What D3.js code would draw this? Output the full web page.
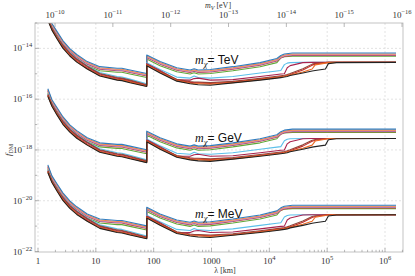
<!DOCTYPE html>
<html>
<head>
<meta charset="utf-8">
<script src="https://cdn.jsdelivr.net/npm/d3@7"></script>
<style>
  body { margin: 0; background: #fff; }
  text { font-family: "Liberation Serif", "DejaVu Serif", serif; fill: #333; }
</style>
</head>
<body>
<script>
// wavelength grid (km) shared by the upper curves of each bundle
var upperLambda = [1.48, 1.74, 2.14, 2.69, 3.55, 4.68, 7.1, 11.7, 23.4, 28.2, 38.9, 75.9, 75.9, 129, 251, 427, 501, 589, 955, 2340, 6920, 13500, 15800, 18200, 25100, 1.55e6];
// wavelength grid (km) for the lower curves (they step up later)
var lowerLambda = [1.48, 1.74, 2.14, 2.69, 3.55, 4.68, 7.1, 11.7, 23.4, 28.2, 38.9, 75.9, 75.9, 129, 251, 427, 501, 589, 955, 2340, 6920, 13500, 15800, 18200, 20400, 22900, 38000, 55000, 62000, 93300, 105000, 145000, 1.55e6];

// log10 f_DM for the m_chi = TeV bundle
var blueExp   = [-12.59,-13.02,-13.34,-13.69,-14.01,-14.24,-14.52,-14.72,-14.78,-14.78,-14.85,-14.99,-14.26,-14.52,-14.76,-14.85,-14.80,-14.85,-14.83,-14.72,-14.56,-14.40,-14.28,-14.22,-14.18,-14.18];
var orangeExp = [-12.63,-13.06,-13.38,-13.73,-14.05,-14.28,-14.56,-14.76,-14.82,-14.82,-14.89,-15.03,-14.30,-14.56,-14.80,-14.89,-14.84,-14.89,-14.87,-14.76,-14.60,-14.44,-14.32,-14.26,-14.22,-14.22];
var pinkExp   = [-12.65,-13.08,-13.40,-13.75,-14.07,-14.30,-14.58,-14.78,-14.84,-14.84,-14.91,-15.05,-14.32,-14.58,-14.82,-14.91,-14.86,-14.91,-14.89,-14.78,-14.62,-14.46,-14.34,-14.28,-14.24,-14.24];
var purpleExp = [-12.67,-13.10,-13.42,-13.77,-14.09,-14.32,-14.60,-14.80,-14.86,-14.86,-14.93,-15.07,-14.34,-14.60,-14.84,-14.93,-14.88,-14.93,-14.91,-14.80,-14.64,-14.48,-14.36,-14.30,-14.26,-14.26];
var redExp    = [-12.69,-13.12,-13.44,-13.79,-14.11,-14.34,-14.62,-14.82,-14.88,-14.88,-14.95,-15.09,-14.36,-14.62,-14.86,-14.95,-14.90,-14.95,-14.93,-14.82,-14.66,-14.50,-14.38,-14.32,-14.28,-14.28];
var greenExp  = [-12.75,-13.18,-13.50,-13.85,-14.17,-14.40,-14.68,-14.88,-14.94,-14.94,-15.01,-15.15,-14.42,-14.68,-14.92,-15.01,-14.96,-15.01,-14.99,-14.88,-14.72,-14.56,-14.37,-14.33,-14.31,-14.31];

var skyExp     = [-12.79,-13.18,-13.54,-13.85,-14.17,-14.40,-14.68,-14.95,-15.11,-15.13,-15.21,-15.39,-14.57,-14.83,-15.13,-15.17,-15.09,-15.15,-15.17,-15.11,-14.97,-14.89,-14.87,-14.64,-14.58,-14.56,-14.55,-14.55,-14.55,-14.55,-14.55,-14.55,-14.55];
var crimsonExp = [-12.83,-13.22,-13.57,-13.89,-14.20,-14.44,-14.72,-15.01,-15.17,-15.19,-15.27,-15.45,-14.60,-14.87,-15.24,-15.25,-15.19,-15.17,-15.25,-15.23,-15.11,-15.03,-15.01,-15.00,-14.76,-14.68,-14.56,-14.55,-14.55,-14.55,-14.55,-14.55,-14.55];
var brownExp   = [-12.81,-13.20,-13.56,-13.87,-14.19,-14.42,-14.70,-14.99,-15.15,-15.17,-15.25,-15.43,-14.62,-14.90,-15.22,-15.31,-15.33,-15.33,-15.35,-15.30,-15.18,-15.10,-15.08,-15.06,-15.03,-14.99,-14.80,-14.62,-14.59,-14.56,-14.55,-14.55,-14.55];
var darkRedExp = [-12.85,-13.24,-13.59,-13.94,-14.25,-14.49,-14.77,-15.05,-15.21,-15.23,-15.31,-15.47,-14.63,-14.92,-15.25,-15.34,-15.36,-15.36,-15.38,-15.33,-15.21,-15.13,-15.11,-15.09,-15.06,-15.03,-14.85,-14.66,-14.62,-14.56,-14.55,-14.55,-14.55];
var vermExp    = [-12.87,-13.26,-13.61,-13.97,-14.28,-14.52,-14.80,-15.07,-15.23,-15.25,-15.33,-15.49,-14.66,-14.95,-15.27,-15.37,-15.39,-15.39,-15.41,-15.35,-15.23,-15.15,-15.13,-15.11,-15.08,-15.05,-14.93,-14.81,-14.65,-14.58,-14.56,-14.55,-14.55];
var blackExp   = [-12.89,-13.28,-13.63,-13.99,-14.30,-14.54,-14.81,-15.09,-15.25,-15.27,-15.35,-15.50,-14.68,-14.97,-15.29,-15.39,-15.41,-15.43,-15.45,-15.36,-15.25,-15.17,-15.15,-15.13,-15.11,-15.07,-14.97,-14.89,-14.87,-14.81,-14.60,-14.56,-14.55];

var series = [
    { lam: upperLambda, exp: greenExp,   color: "#5fa83a" },
    { lam: upperLambda, exp: redExp,     color: "#c9473a" },
    { lam: upperLambda, exp: purpleExp,  color: "#9467bd" },
    { lam: upperLambda, exp: pinkExp,    color: "#e899b8" },
    { lam: upperLambda, exp: orangeExp,  color: "#f08a4b" },
    { lam: upperLambda, exp: blueExp,    color: "#2f7dc0" },
    { lam: lowerLambda, exp: skyExp,     color: "#5cc0ea" },
    { lam: lowerLambda, exp: crimsonExp, color: "#a8234e" },
    { lam: lowerLambda, exp: brownExp,   color: "#8c4a3c" },
    { lam: lowerLambda, exp: darkRedExp, color: "#c0302a" },
    { lam: lowerLambda, exp: vermExp,    color: "#ec6a22" },
    { lam: lowerLambda, exp: blackExp,   color: "#222222" }
];

// bundles: decades of shift relative to the TeV curves
var masses = ["TeV", "GeV", "MeV"];
var massShift = [0, -3, -6];
var labelExp = [-14.62, -17.7, -20.68];
var labelLambda = 520;

var xTicks = [1, 10, 100, 1000, 1e4, 1e5, 1e6];
var xTickText = ["1", "10", "100", "1000", "10^4", "10^5", "10^6"];
var yGrid = [-14, -16, -18, -20];
var yTickExp = [-14, -16, -18, -20, -22];
var mTickExp = [-10, -11, -12, -13, -14, -15, -16];
var hbarC = 1.97e-10; // eV km

var W = 415, H = 276;
var pL = 35, pR = 403, pT = 23, pB = 252;

var svg = d3.select("body").append("svg").attr("width", W).attr("height", H);

var x = d3.scaleLog().domain([1, 1e6]).range([38, 385]);
var y = d3.scaleLog().domain([1e-22, 1e-13]).range([251.5, 23]);

// grid
svg.append("g").selectAll("line").data(xTicks).enter().append("line")
    .attr("x1", function (d) { return x(d); }).attr("x2", function (d) { return x(d); })
    .attr("y1", pT).attr("y2", pB)
    .attr("stroke", "#dcdcdc").attr("stroke-width", 0.8).attr("stroke-dasharray", "2,2");
svg.append("g").selectAll("line").data(yGrid).enter().append("line")
    .attr("x1", pL).attr("x2", pR)
    .attr("y1", function (d) { return y(Math.pow(10, d)); }).attr("y2", function (d) { return y(Math.pow(10, d)); })
    .attr("stroke", "#dcdcdc").attr("stroke-width", 0.8).attr("stroke-dasharray", "2,2");

svg.append("clipPath").attr("id", "clip").append("rect")
    .attr("x", pL).attr("y", pT).attr("width", pR - pL).attr("height", pB - pT);

var line = d3.line()
    .x(function (d) { return x(d[0]); })
    .y(function (d) { return y(Math.pow(10, d[1])); });

var plot = svg.append("g").attr("clip-path", "url(#clip)");
massShift.forEach(function (shift) {
    series.forEach(function (s) {
        var pts = s.lam.map(function (l, i) { return [l, s.exp[i] + shift]; });
        plot.append("path").attr("d", line(pts)).attr("fill", "none")
            .attr("stroke", s.color).attr("stroke-width", 1.1).attr("stroke-linejoin", "round");
    });
});

// frame
svg.append("rect").attr("x", pL).attr("y", pT).attr("width", pR - pL).attr("height", pB - pT)
    .attr("fill", "none").attr("stroke", "#b4b4b4").attr("stroke-width", 0.8);

// bottom ticks
var minorX = [];
for (var e = 0; e < 7; e++) {
    for (var k = 1; k < 10; k++) {
        var v = k * Math.pow(10, e);
        if (x(v) > pL && x(v) < pR) minorX.push(v);
    }
}
svg.append("g").selectAll("line").data(minorX).enter().append("line")
    .attr("x1", function (d) { return x(d); }).attr("x2", function (d) { return x(d); })
    .attr("y1", pB).attr("y2", function (d) { return xTicks.indexOf(d) >= 0 ? pB - 4 : pB - 2.2; })
    .attr("stroke", "#999").attr("stroke-width", 0.7);

var xl = svg.append("g").selectAll("text").data(xTicks).enter().append("text")
    .attr("x", function (d) { return x(d); }).attr("y", 264)
    .attr("text-anchor", "middle").style("font-size", "9px");
xl.each(function (d, i) {
    var t = d3.select(this), s = xTickText[i];
    if (s.indexOf("^") > 0) {
        var p = s.split("^");
        t.append("tspan").text(p[0]);
        t.append("tspan").attr("dy", -4).style("font-size", "6.5px").text(p[1]);
    } else {
        t.text(s);
    }
});

// left ticks
var yAll = d3.range(-22, -12);
svg.append("g").selectAll("line").data(yAll).enter().append("line")
    .attr("x1", pL).attr("x2", function (d) { return d % 2 === 0 ? pL + 4 : pL + 2.2; })
    .attr("y1", function (d) { return y(Math.pow(10, d)); }).attr("y2", function (d) { return y(Math.pow(10, d)); })
    .attr("stroke", "#999").attr("stroke-width", 0.7);

var yl = svg.append("g").selectAll("text").data(yTickExp).enter().append("text")
    .attr("x", 13).attr("y", function (d) { return y(Math.pow(10, d)) + 3; })
    .style("font-size", "9px");
yl.append("tspan").text("10");
yl.append("tspan").attr("dy", -4).style("font-size", "6.5px").text(function (d) { return "\u2212" + (-d); });

// top axis: m_V = hbar c / lambda
var tl = svg.append("g").selectAll("text").data(mTickExp).enter().append("text")
    .attr("x", function (d) { return x(hbarC / Math.pow(10, d)); }).attr("y", 18)
    .attr("text-anchor", "middle").style("font-size", "9px");
tl.append("tspan").text("10");
tl.append("tspan").attr("dy", -4).style("font-size", "6.5px").text(function (d) { return "\u2212" + (-d); });
svg.append("g").selectAll("line").data(mTickExp).enter().append("line")
    .attr("x1", function (d) { return x(hbarC / Math.pow(10, d)); })
    .attr("x2", function (d) { return x(hbarC / Math.pow(10, d)); })
    .attr("y1", pT).attr("y2", pT + 4).attr("stroke", "#999").attr("stroke-width", 0.7);

// axis titles
var mt = svg.append("text").attr("x", 218).attr("y", 8).attr("text-anchor", "middle").style("font-size", "8px");
mt.append("tspan").style("font-style", "italic").text("m");
mt.append("tspan").attr("dy", 2).style("font-size", "6px").style("font-style", "italic").text("V");
mt.append("tspan").attr("dy", -2).text(" [eV]");

svg.append("text").attr("x", 225).attr("y", 273).attr("text-anchor", "middle")
    .style("font-size", "8px").text("\u03bb [km]");

var fl = svg.append("text").attr("transform", "translate(11,150) rotate(-90)")
    .attr("text-anchor", "middle").style("font-size", "9px");
fl.append("tspan").style("font-style", "italic").text("f");
fl.append("tspan").attr("dy", 2).style("font-size", "6px").text("DM");

// bundle labels
masses.forEach(function (m, i) {
    var t = svg.append("text").attr("x", x(labelLambda)).attr("y", y(Math.pow(10, labelExp[i])))
        .style("font-size", "12px").style("fill", "#111");
    t.append("tspan").style("font-style", "italic").text("m");
    t.append("tspan").attr("dy", 3).style("font-size", "8.5px").style("font-style", "italic").text("\u03c7");
    t.append("tspan").attr("dy", -3).style("font-family", "Liberation Sans, Arial, sans-serif").text("= " + m);
});
</script>
</body>
</html>
